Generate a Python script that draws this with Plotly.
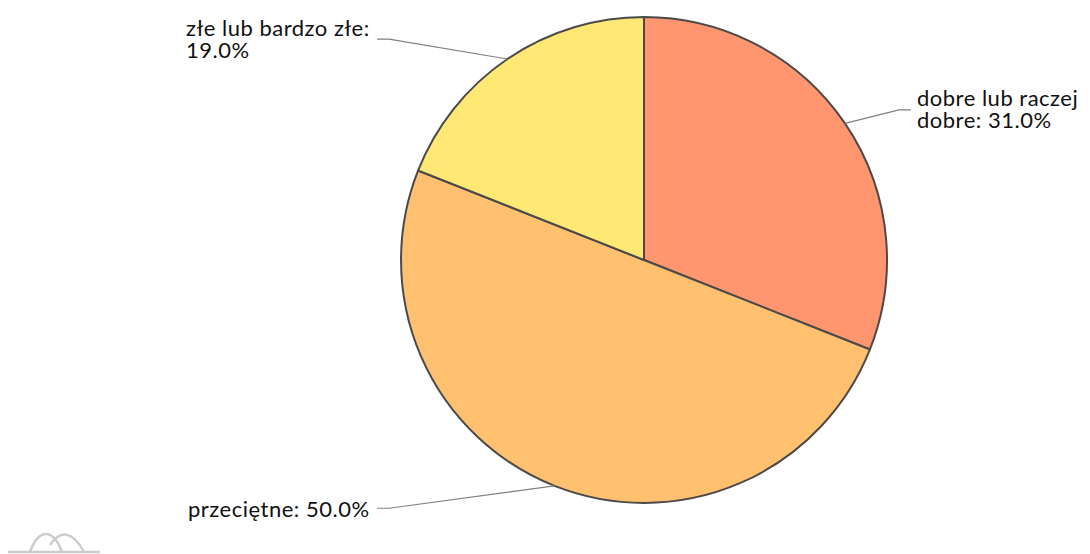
import math
import textwrap
import plotly.graph_objects as go

# dane
labels = ["dobre lub raczej dobre", "przeciętne", "złe lub bardzo złe"]
values = [31.0, 50.0, 19.0]
colors = ["#FF9670", "#FFC070", "#FFE873"]

W, H = 1090, 554
OFF = 8                           # margines body strony html
CX, CY, R = 644, 260, 243         # środek i promień koła (piksele strony)
LABEL_DIST = 24                   # odległość etykiet od koła
FONT_PX = 22
LINE_H = 22                       # odstęp wierszy etykiet
FONT = "Lato, 'Open Sans', sans-serif"


def px(x):
    return (x - OFF) / W


def py(y):
    return 1 - (y - OFF) / H


fig = go.Figure()

fig.add_trace(go.Pie(
    labels=labels,
    values=values,
    sort=False,
    direction="clockwise",
    rotation=0,
    textinfo="none",
    hoverinfo="label+percent",
    marker=dict(colors=colors, line=dict(color="#4a4a4a", width=2)),
    domain=dict(x=[px(CX - 300), px(CX + 300)], y=[py(CY + R), py(CY - R)]),
    showlegend=False,
))

# etykiety z liniami prowadzącymi, liczone z kątów wycinków
total = sum(values)
start = 0.0
shapes = []
annotations = []
for lab, val in zip(labels, values):
    frac = val / total
    mid = (start + frac / 2) * 2 * math.pi
    start += frac
    sx = CX + R * math.sin(mid)
    sy = CY - R * math.cos(mid)
    right = math.sin(mid) >= 0
    ey = CY - (R + LABEL_DIST) * math.cos(mid)
    ex = CX + (R + LABEL_DIST) * (1 if right else -1)
    kx = ex - 12 if right else ex + 12
    path = f"M {px(sx)},{py(sy)} L {px(kx)},{py(ey)} L {px(ex)},{py(ey)}"
    shapes.append(dict(type="path", xref="paper", yref="paper", path=path,
                       line=dict(color="#808080", width=1.2)))
    lines = textwrap.wrap(f"{lab}: {val:.1f}%", 20)
    # mniejsza czcionka bazowa => ciaśniejsze wiersze (odstęp 1.3 em)
    txt = "<br>".join(
        f"<span style='font-size:{FONT_PX}px;letter-spacing:0.5px'>{ln}</span>"
        for ln in lines)
    annotations.append(dict(
        x=px(ex + 4 if right else ex - 5), y=py(ey - (1 if len(lines) > 1 else 0)),
        xref="paper", yref="paper",
        text=txt, showarrow=False, align="left",
        xanchor="left" if right else "right", yanchor="middle",
        font=dict(family=FONT, size=LINE_H / 1.3, color="#111111"),
    ))

# logo w lewym dolnym rogu
logo = [
    f"M {px(8)},{py(552)} L {px(100)},{py(552)}",
    f"M {px(30)},{py(552)} C {px(38)},{py(530)} {px(52)},{py(526)} {px(62)},{py(552)}",
    f"M {px(50)},{py(545)} C {px(60)},{py(530)} {px(72)},{py(530)} {px(84)},{py(552)}",
]
for p in logo:
    shapes.append(dict(type="path", xref="paper", yref="paper", path=p,
                       line=dict(color="#cccccc", width=2.5)))

fig.update_layout(
    width=W, height=H,
    margin=dict(l=0, r=0, t=0, b=0),
    paper_bgcolor="white",
    plot_bgcolor="white",
    shapes=shapes,
    annotations=annotations,
    font=dict(family=FONT),
)

fig.write_html("out.html")
